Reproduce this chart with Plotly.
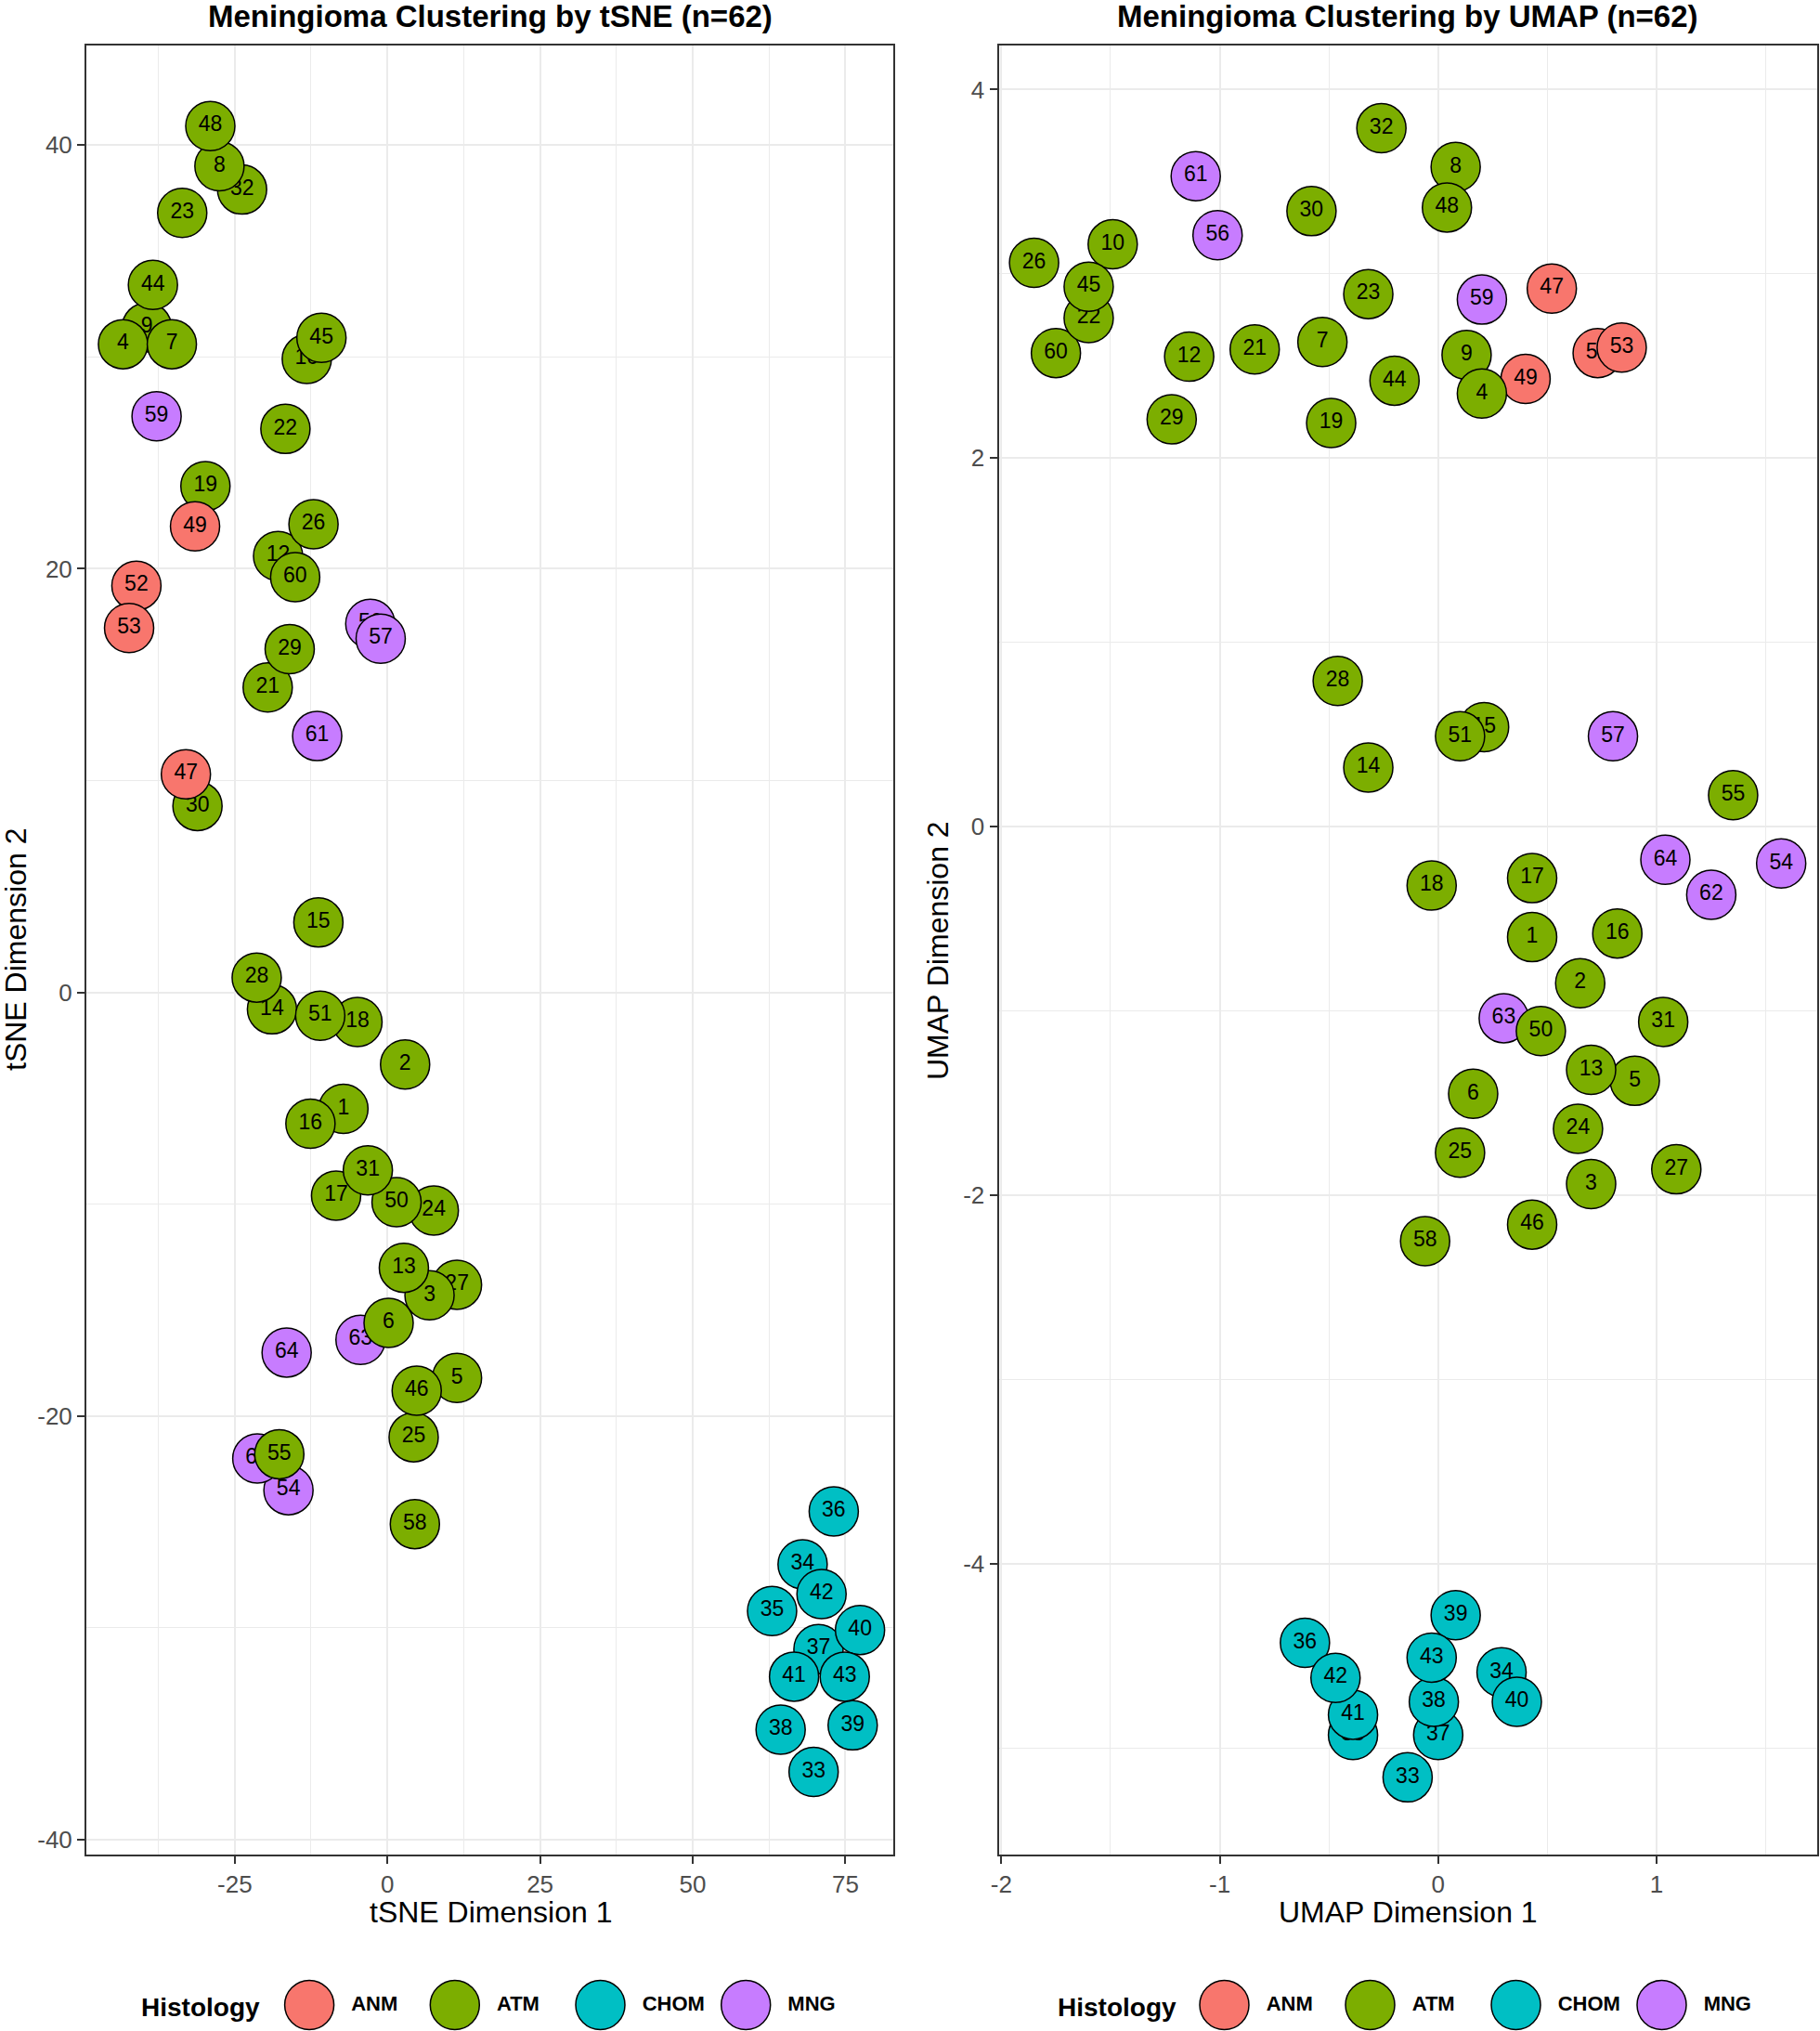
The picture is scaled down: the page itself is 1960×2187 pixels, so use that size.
import plotly.graph_objects as go

# ---------------- data (row order = drawing order) ----------------
sample_ids = [1, 2, 5, 9, 10, 12, 14, 15, 16, 17, 18, 19, 21, 23, 24, 25, 26, 27, 28, 29,
              30, 32, 33, 34, 35, 36, 37, 38, 39, 40, 41, 42, 43, 44, 46, 47, 49, 51, 52, 53,
              54, 56, 57, 58, 59, 60, 61, 62, 63, 64, 4, 7, 8, 48, 6, 50, 31, 3, 13, 55, 22, 45]

histology = ["ATM", "ATM", "ATM", "ATM", "ATM", "ATM", "ATM", "ATM", "ATM", "ATM",
             "ATM", "ATM", "ATM", "ATM", "ATM", "ATM", "ATM", "ATM", "ATM", "ATM",
             "ATM", "ATM", "CHOM", "CHOM", "CHOM", "CHOM", "CHOM", "CHOM", "CHOM", "CHOM",
             "CHOM", "CHOM", "CHOM", "ATM", "ATM", "ANM", "ANM", "ATM", "ANM", "ANM",
             "MNG", "MNG", "MNG", "ATM", "MNG", "ATM", "MNG", "MNG", "MNG", "MNG",
             "ATM", "ATM", "ATM", "ATM", "ATM", "ATM", "ATM", "ATM", "ATM", "ATM", "ATM", "ATM"]

tsne_x = [-7.2, 2.9, 11.4, -39.4, -13.2, -17.9, -18.9, -11.3, -12.6, -8.4,
          -4.9, -29.8, -19.6, -33.6, 7.6, 4.3, -12.1, 11.4, -21.4, -16.0,
          -31.1, -23.8, 69.8, 68.0, 63.0, 73.1, 70.6, 64.4, 76.2, 77.4,
          66.6, 71.1, 74.9, -38.4, 4.8, -33.0, -31.5, -11.0, -41.1, -42.3,
          -16.2, -2.8, -1.1, 4.5, -37.8, -15.1, -11.5, -21.3, -4.4, -16.5,
          -43.3, -35.3, -27.5, -29.0, 0.2, 1.5, -3.2, 6.9, 2.7, -17.7, -16.7, -10.8]

tsne_y = [-5.5, -3.4, -18.2, 31.4, 29.9, 20.6, -0.8, 3.3, -6.2, -9.6,
          -1.4, 23.9, 14.4, 36.8, -10.3, -21.0, 22.1, -13.8, 0.7, 16.2,
          8.8, 37.9, -36.8, -27.0, -29.2, -24.5, -31.0, -34.8, -34.6, -30.1,
          -32.3, -28.4, -32.3, 33.4, -18.8, 10.3, 22.0, -1.1, 19.2, 17.2,
          -23.5, 17.4, 16.7, -25.1, 27.2, 19.6, 12.1, -22.0, -16.4, -17.0,
          30.6, 30.6, 39.0, 40.9, -15.6, -9.9, -8.4, -14.3, -13.0, -21.8, 26.6, 30.9]

umap_x = [0.43, 0.65, 0.90, 0.13, -1.49, -1.14, -0.32, 0.21, 0.82, 0.43,
          -0.03, -0.49, -0.84, -0.32, 0.64, 0.10, -1.85, 1.09, -0.46, -1.22,
          -0.58, -0.26, -0.14, 0.29, -0.39, -0.61, 0.00, -0.02, 0.08, 0.36,
          -0.39, -0.47, -0.03, -0.20, 0.43, 0.52, 0.40, 0.10, 0.73, 0.84,
          1.57, -1.01, 0.80, -0.06, 0.20, -1.75, -1.11, 1.25, 0.30, 1.04,
          0.20, -0.53, 0.08, 0.04, 0.16, 0.47, 1.03, 0.70, 0.70, 1.35, -1.60, -1.60]

umap_y = [-0.60, -0.85, -1.38, 2.56, 3.16, 2.55, 0.32, 0.54, -0.58, -0.28,
          -0.32, 2.19, 2.59, 2.89, -1.64, -1.77, 3.06, -1.86, 0.79, 2.21,
          3.34, 3.79, -5.16, -4.59, -4.93, -4.43, -4.93, -4.75, -4.28, -4.75,
          -4.82, -4.62, -4.51, 2.42, -2.16, 2.92, 2.43, 0.49, 2.57, 2.60,
          -0.20, 3.21, 0.49, -2.25, 2.86, 2.57, 3.53, -0.37, -1.04, -0.18,
          2.35, 2.63, 3.58, 3.36, -1.45, -1.11, -1.06, -1.94, -1.32, 0.17, 2.76, 2.93]

categories = ["ANM", "ATM", "CHOM", "MNG"]
tsne_xticks = [-25, 0, 25, 50, 75]
tsne_xticklabels = ["-25", "0", "25", "50", "75"]
tsne_yticks = [-40, -20, 0, 20, 40]
tsne_yticklabels = ["-40", "-20", "0", "20", "40"]
umap_xticks = [-2, -1, 0, 1]
umap_xticklabels = ["-2", "-1", "0", "1"]
umap_yticks = [-4, -2, 0, 2, 4]
umap_yticklabels = ["-4", "-2", "0", "2", "4"]

# ---------------- styling ----------------
palette = {"ANM": "#F8766D", "ATM": "#7CAE00", "CHOM": "#00BFC4", "MNG": "#C77CFF"}
FONT = "Liberation Sans, Arial, Helvetica, sans-serif"
W, H = 1960, 2187
MARKER_SIZE = 53
LABEL_SIZE = 23

fig = go.Figure()


def add_points(xs, ys, xa, ya):
    for sid, hist, xv, yv in zip(sample_ids, histology, xs, ys):
        fig.add_trace(go.Scatter(
            x=[xv], y=[yv], xaxis=xa, yaxis=ya,
            mode="markers+text", text=[str(sid)], textposition="middle center",
            textfont=dict(family=FONT, size=LABEL_SIZE, color="black"),
            marker=dict(size=MARKER_SIZE, color=palette[hist],
                        line=dict(color="black", width=1.5)),
            showlegend=False, hoverinfo="text", name=hist,
        ))


add_points(tsne_x, tsne_y, "x", "y")
add_points(umap_x, umap_y, "x2", "y2")

# legend key rows (one per panel), drawn on their own small axes
for xa, ya in (("x3", "y3"), ("x4", "y4")):
    fig.add_trace(go.Scatter(
        x=categories, y=[0] * len(categories), xaxis=xa, yaxis=ya,
        mode="markers+text", text=["\u2002" + c for c in categories],
        textposition="middle right", cliponaxis=False,
        textfont=dict(family=FONT, size=22, color="black", weight="bold"),
        marker=dict(size=MARKER_SIZE, color=[palette[c] for c in categories],
                    line=dict(color="black", width=1.5)),
        showlegend=False, hoverinfo="skip",
    ))


def px(v):
    return v / W


def py(v):
    return 1 - v / H


ydom = [py(1997), py(49)]
common = dict(
    showgrid=True, gridcolor="#EBEBEB", gridwidth=2, zeroline=False,
    showline=True, mirror=True, linecolor="#333333", linewidth=2,
    ticks="outside", ticklen=8, tickwidth=1.5, tickcolor="#333333",
    tickfont=dict(family=FONT, size=26, color="#4D4D4D"),
    tickmode="array", automargin=False, fixedrange=True,
)


def minor(step):
    return dict(dtick=step, tick0=0, showgrid=True, gridcolor="#EBEBEB", gridwidth=1, ticks="")


fig.update_layout(
    width=W, height=H,
    margin=dict(l=0, r=0, t=0, b=0),
    paper_bgcolor="white", plot_bgcolor="white",
    showlegend=False,
    xaxis=dict(domain=[px(93), px(962)], anchor="y", range=[-49.3, 82.85],
               tickvals=tsne_xticks, ticktext=tsne_xticklabels, minor=minor(12.5), **common),
    yaxis=dict(domain=ydom, anchor="x", range=[-40.7, 44.7],
               tickvals=tsne_yticks, ticktext=tsne_yticklabels, minor=minor(10), **common),
    xaxis2=dict(domain=[px(1075.5), px(1957)], anchor="y2", range=[-2.012, 1.735],
                tickvals=umap_xticks, ticktext=umap_xticklabels, minor=minor(0.5), **common),
    yaxis2=dict(domain=ydom, anchor="x2", range=[-5.579, 4.239],
                tickvals=umap_yticks, ticktext=umap_yticklabels, minor=minor(1), **common),
    xaxis3=dict(domain=[px(254.75), px(881.55)], anchor="y3", type="category",
                categoryorder="array", categoryarray=categories,
                range=[-0.5, 3.5], visible=False, fixedrange=True),
    yaxis3=dict(domain=[py(2187), py(2131)], anchor="x3", range=[-1, 1],
                visible=False, fixedrange=True),
    xaxis4=dict(domain=[px(1240), px(1868)], anchor="y4", type="category",
                categoryorder="array", categoryarray=categories,
                range=[-0.5, 3.5], visible=False, fixedrange=True),
    yaxis4=dict(domain=[py(2187), py(2131)], anchor="x4", range=[-1, 1],
                visible=False, fixedrange=True),
)

ann = []
# panel titles
ann.append(dict(text="<b>Meningioma Clustering by tSNE (n=62)</b>", x=px(527.5), y=py(17),
                font=dict(family=FONT, size=33, color="black")))
ann.append(dict(text="<b>Meningioma Clustering by UMAP (n=62)</b>", x=px(1516), y=py(17),
                font=dict(family=FONT, size=33, color="black")))
# axis titles
ann.append(dict(text="tSNE Dimension 1", x=px(528), y=py(2059),
                font=dict(family=FONT, size=32, color="black")))
ann.append(dict(text="UMAP Dimension 1", x=px(1516.4), y=py(2059),
                font=dict(family=FONT, size=32, color="black")))
ann.append(dict(text="tSNE Dimension 2", x=px(17), y=py(1023), textangle=-90,
                font=dict(family=FONT, size=32, color="black")))
ann.append(dict(text="UMAP Dimension 2", x=px(1010), y=py(1023), textangle=-90,
                font=dict(family=FONT, size=32, color="black")))
# legend titles
ann.append(dict(text="<b>Histology</b>", x=px(216), y=py(2161),
                font=dict(family=FONT, size=28, color="black")))
ann.append(dict(text="<b>Histology</b>", x=px(1203), y=py(2161),
                font=dict(family=FONT, size=28, color="black")))
for a in ann:
    a.update(xref="paper", yref="paper", showarrow=False, xanchor="center", yanchor="middle")
fig.update_layout(annotations=ann)

fig.write_html("out.html",
               config={"displayModeBar": False},
               post_script="document.body.style.margin='0';document.body.style.overflow='hidden';")
